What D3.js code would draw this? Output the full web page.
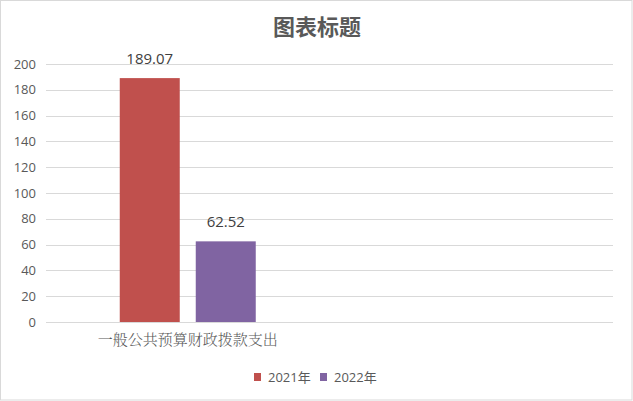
<!DOCTYPE html>
<html>
<head>
<meta charset="utf-8">
<script src="https://cdn.jsdelivr.net/npm/d3@7"></script>
<style>
  body { margin: 0; background: #fff; }
  svg text { font-family: "Open Sans", "Noto Sans CJK SC", sans-serif; }
</style>
</head>
<body>
<div id="chart"></div>
<script>
// datos de la grafica
const categorias = ["一般公共预算财政拨款支出", ""];
const series = ["2021年", "2022年"];
const valores2021 = [189.07, null];
const valores2022 = [62.52, null];
const colores = ["#c0504d", "#8064a2"];
const ticksY = [0, 20, 40, 60, 80, 100, 120, 140, 160, 180, 200];

const W = 633, H = 401;
const margin = { top: 64, right: 20, bottom: 79, left: 46 };
const width = 613 - margin.left;
const height = 322 - margin.top;

const svg = d3.select("#chart").append("svg")
    .attr("width", W)
    .attr("height", H);

// borde
svg.append("rect")
    .attr("x", 0.5).attr("y", 0.5)
    .attr("width", W - 1.5).attr("height", H - 1.5)
    .attr("fill", "#fff")
    .attr("stroke", "#d9d9d9");

// titulo
svg.append("text")
    .attr("x", 317).attr("y", 35)
    .attr("text-anchor", "middle")
    .attr("fill", "#595959")
    .style("font-family", "'Noto Sans CJK SC', sans-serif")
    .style("font-weight", "bold")
    .style("font-size", "22px")
    .text("图表标题");

const g = svg.append("g")
    .attr("transform", `translate(${margin.left},${margin.top})`);

const x0 = d3.scaleBand().domain(categorias.map((d, i) => i)).range([0, width]).padding(0);
const anchoGrupo = 136;
const x1 = d3.scaleBand().domain(series).range([0, anchoGrupo]).paddingInner(16 / 76).paddingOuter(0);

const y = d3.scaleLinear().domain([0, 200]).range([height, 0]);

// lineas de cuadricula
g.append("g")
    .selectAll("line")
    .data(ticksY)
    .enter()
    .append("line")
    .attr("x1", 0).attr("x2", width)
    .attr("y1", d => Math.round(y(d)) + 0.5)
    .attr("y2", d => Math.round(y(d)) + 0.5)
    .attr("stroke", "#d9d9d9")
    .attr("stroke-width", 1);

// eje Y
const ejeY = g.append("g")
    .call(d3.axisLeft(y).tickValues(ticksY).tickSize(0).tickPadding(10));
ejeY.select(".domain").remove();
ejeY.selectAll("text")
    .attr("fill", "#595959")
    .style("font-family", "'Open Sans', sans-serif")
    .style("font-size", "13px");

// barras
const datos = [valores2021, valores2022];
const cx = x0(0) + x0.bandwidth() / 2 - anchoGrupo / 2;
series.forEach((s, k) => {
    const v = datos[k][0];
    g.append("rect")
        .attr("x", cx + x1(s))
        .attr("y", y(v))
        .attr("width", x1.bandwidth())
        .attr("height", height - y(v))
        .attr("fill", colores[k]);
    g.append("text")
        .attr("x", cx + x1(s) + x1.bandwidth() / 2)
        .attr("y", y(v) - 14)
        .attr("text-anchor", "middle")
        .attr("fill", "#404040")
        .style("font-size", "15px")
        .text(v.toFixed(2));
});

// etiqueta de categoria
g.append("text")
    .attr("x", x0(0) + x0.bandwidth() / 2)
    .attr("y", height + 23)
    .attr("text-anchor", "middle")
    .attr("fill", "#595959")
    .style("font-family", "'Noto Serif CJK SC', 'Noto Sans CJK SC', serif")
    .style("font-weight", "300")
    .style("font-size", "15px")
    .text(categorias[0]);

// leyenda
const leyenda = svg.append("g").attr("transform", "translate(254,377)");
const posLeyenda = [0, 66];
series.forEach((s, k) => {
    leyenda.append("rect")
        .attr("x", posLeyenda[k]).attr("y", -4)
        .attr("width", 7).attr("height", 8)
        .attr("fill", colores[k]);
    leyenda.append("text")
        .attr("x", posLeyenda[k] + 14).attr("y", 5)
        .attr("fill", "#595959")
        .style("font-size", "13px")
        .text(s);
});
</script>
</body>
</html>
